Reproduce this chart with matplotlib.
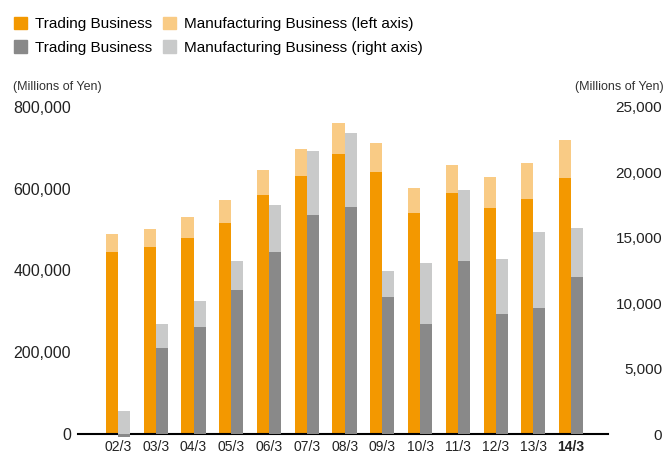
import numpy as np
import matplotlib.pyplot as plt
from matplotlib.patches import Patch

plt.rcParams['font.family'] = ['Liberation Sans', 'DejaVu Sans']

years = ['02/3', '03/3', '04/3', '05/3', '06/3', '07/3', '08/3',
         '09/3', '10/3', '11/3', '12/3', '13/3', '14/3']

# left axis (millions of yen)
trading_left = [445000, 458000, 480000, 517000, 585000, 632000, 686000,
                642000, 541000, 590000, 554000, 576000, 627000]
manuf_left = [44000, 43000, 51000, 55000, 60000, 65000, 75000,
              70000, 60000, 68000, 75000, 87000, 92000]

# right axis (millions of yen)
trading_right = [-230, 6580, 8180, 11000, 13900, 16750, 17350,
                 10470, 8410, 13230, 9170, 9630, 12000]
manuf_right = [1760, 1830, 1990, 2220, 3600, 4890, 5660,
               1990, 4660, 5430, 4200, 5810, 3750]

c_trade_l = '#f39800'
c_manuf_l = '#f9cb85'
c_trade_r = '#898989'
c_manuf_r = '#c9caca'

x = np.arange(len(years))
w = 0.32

fig = plt.figure(figsize=(6.72, 4.57), dpi=100)
ax = fig.add_axes([0.116, 0.0503, 0.789, 0.7156])
ax2 = ax.twinx()

ax.bar(x - w/2, trading_left, w, color=c_trade_l, clip_on=False)
ax.bar(x - w/2, manuf_left, w, bottom=trading_left, color=c_manuf_l, clip_on=False)

base_r = np.clip(trading_right, 0, None)
ax2.bar(x + w/2, trading_right, w, color=c_trade_r, clip_on=False, zorder=3)
ax2.bar(x + w/2, manuf_right, w, bottom=base_r, color=c_manuf_r, clip_on=False, zorder=3)

ax.set_xlim(-1.06, 12.98)
ax.set_ylim(0, 800000)
ax2.set_ylim(0, 25000)

ax.set_yticks(np.arange(0, 800001, 200000))
ax.set_yticklabels([f'{v:,}' for v in range(0, 800001, 200000)])
ax2.set_yticks(np.arange(0, 25001, 5000))
ax2.set_yticklabels([f'{v:,}' for v in range(0, 25001, 5000)])

ax.set_xticks(x)
ax.set_xticklabels(years)
ax.get_xticklabels()[-1].set_fontweight('bold')

ax.tick_params(axis='y', length=0, pad=5, labelsize=11.5, labelcolor='#222222')
ax2.tick_params(axis='y', length=0, pad=39, labelsize=11, labelcolor='#222222')
for t in ax2.get_yticklabels():
    t.set_horizontalalignment('right')
ax.tick_params(axis='x', length=0, pad=4, labelsize=10, labelcolor='#222222')

for a in (ax, ax2):
    for s in ('top', 'left', 'right'):
        a.spines[s].set_visible(False)
ax2.spines['bottom'].set_visible(False)
ax.spines['bottom'].set_linewidth(1.5)
ax.spines['bottom'].set_color('black')

fig.text(13/672, 1 - 87/457, '(Millions of Yen)', fontsize=9, color='#333333',
         ha='left', va='center')
fig.text(664/672, 1 - 87/457, '(Millions of Yen)', fontsize=9, color='#333333',
         ha='right', va='center')

handles = [Patch(color=c_trade_l), Patch(color=c_trade_r),
           Patch(color=c_manuf_l), Patch(color=c_manuf_r)]
labels = ['Trading Business', 'Trading Business',
          'Manufacturing Business (left axis)', 'Manufacturing Business (right axis)']
fig.legend(handles, labels, ncol=2, loc='upper left', bbox_to_anchor=(0.021, 0.963),
           frameon=False, fontsize=11, handlelength=0.85, handleheight=0.85,
           handletextpad=0.5, columnspacing=0.75, labelspacing=0.6, borderaxespad=0,
           borderpad=0)

fig.savefig('out.png', dpi=100)
